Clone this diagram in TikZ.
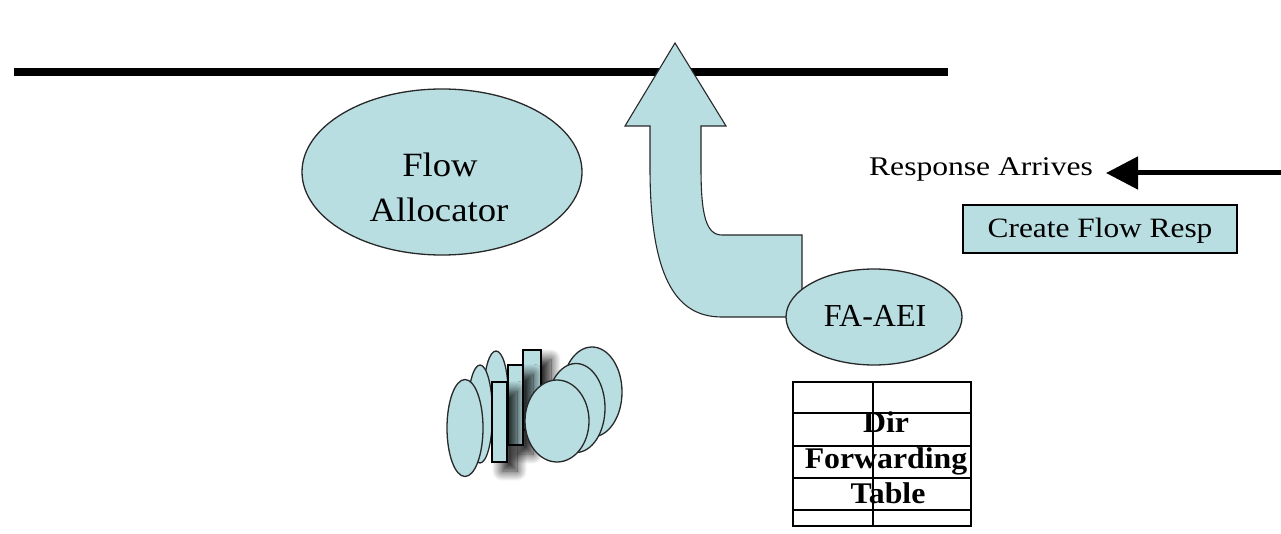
\documentclass[tikz,border=0pt]{standalone}
\usepackage{fontspec}
\usepackage{graphicx}
\setmainfont{Liberation Serif}
\usetikzlibrary{arrows.meta,shapes.geometric,shadows.blur}
\definecolor{tealfill}{RGB}{184,222,226}
\definecolor{edgegray}{RGB}{40,40,40}
\tikzset{
  blob/.style={ellipse,draw=edgegray,line width=1.3pt,fill=tealfill,inner sep=0pt},
  slab/.style={draw=black,line width=1.4pt,fill=tealfill},
  slabshadow/.style={blur shadow={shadow xshift=10pt,shadow yshift=-9pt,shadow blur steps=14,shadow blur radius=10pt,shadow opacity=90}},
  lbl/.style={anchor=base,inner sep=0pt,text=black},
  grid line/.style={draw=black,line width=1.3pt},
}
\begin{document}
\begin{tikzpicture}[x=1pt,y=-1pt]
\useasboundingbox (0,0) rectangle (1281,534);

% top bar
\coordinate (barL) at (14,72);
\coordinate (barR) at (948,72);
\draw[line width=8pt] (barL) -- (barR);

% Flow Allocator
\node[blob,minimum width=280pt,minimum height=166pt] (fa) at (442,172) {};
\node[lbl,font=\fontsize{34}{45}\selectfont] (faL1) at (440,177) {\scalebox{1.08}[1]{Flow}};
\node[lbl,font=\fontsize{34}{45}\selectfont] (faL2) at (439,222) {\scalebox{1.08}[1]{Allocator}};

% bent block arrow
\draw[draw=edgegray,line width=1.1pt,fill=tealfill]
  (650,126) -- (625,126) -- (675,43) -- (726,126) -- (701,126) -- (701,168)
  .. controls (701,215) and (706,235) .. (722,235) -- (802,235) -- (802,317)
  -- (722,317) .. controls (680,317) and (650,285) .. (650,168) -- cycle;

% FA-AEI
\node[blob,minimum width=176pt,minimum height=96pt] (aei) at (874,317) {};
\node[lbl,font=\fontsize{32}{38}\selectfont] (aeiL) at (875,326) {FA-AEI};

% Response arrives
\node[lbl,font=\fontsize{27}{32}\selectfont] (resp) at (981,176) {\scalebox{1.17}[1]{Response Arrives}};
\coordinate (src) at (1281,173);
\coordinate (tip) at (1106,173);
\draw[line width=5pt,-{Triangle[length=32pt,width=32pt]}] (src) -- (tip);

% Create Flow Resp
\node[draw=black,line width=1.4pt,fill=tealfill,minimum width=274pt,minimum height=48pt,inner sep=0pt] (cfr) at (1100,229) {};
\node[lbl,font=\fontsize{28}{32}\selectfont] (cfrL) at (1100,238) {\scalebox{1.12}[1]{Create Flow Resp}};

% Dir forwarding table
\coordinate (tbNW) at (793,382);
\coordinate (tbSE) at (971,526);
\draw[grid line] (tbNW) rectangle (tbSE);
\foreach \yy in {413,446,478,510} \draw[grid line] (793,\yy) -- (971,\yy);
\draw[grid line] (873,382) -- (873,526);
\node[lbl,font=\bfseries\fontsize{30}{34}\selectfont] (tb1) at (886,432) {\scalebox{1.06}[1]{Dir}};
\node[lbl,font=\bfseries\fontsize{30}{34}\selectfont] (tb2) at (886,468) {\scalebox{1.06}[1]{Forwarding}};
\node[lbl,font=\bfseries\fontsize{30}{34}\selectfont] (tb3) at (888,503) {\scalebox{1.06}[1]{Table}};

% stacked cluster: tall discs, slabs, round discs
\node[blob,minimum width=24pt,minimum height=82pt] (ea) at (496,392) {};
\node[blob,minimum width=25pt,minimum height=98pt] (eb) at (480,414) {};
\node[blob,minimum width=36pt,minimum height=97pt] (ec) at (465,428) {};
\draw[slab,slabshadow] (523,350) rectangle (541,430);
\draw[slab,slabshadow] (508,365) rectangle (523,445);
\draw[slab,slabshadow] (492,382) rectangle (507,462);
\node[blob,minimum width=60pt,minimum height=90pt] (ca) at (592,392) {};
\node[blob,minimum width=58pt,minimum height=89pt] (cb) at (576,408) {};
\node[blob,minimum width=64pt,minimum height=82pt] (cc) at (557,421) {};
\end{tikzpicture}
\end{document}
